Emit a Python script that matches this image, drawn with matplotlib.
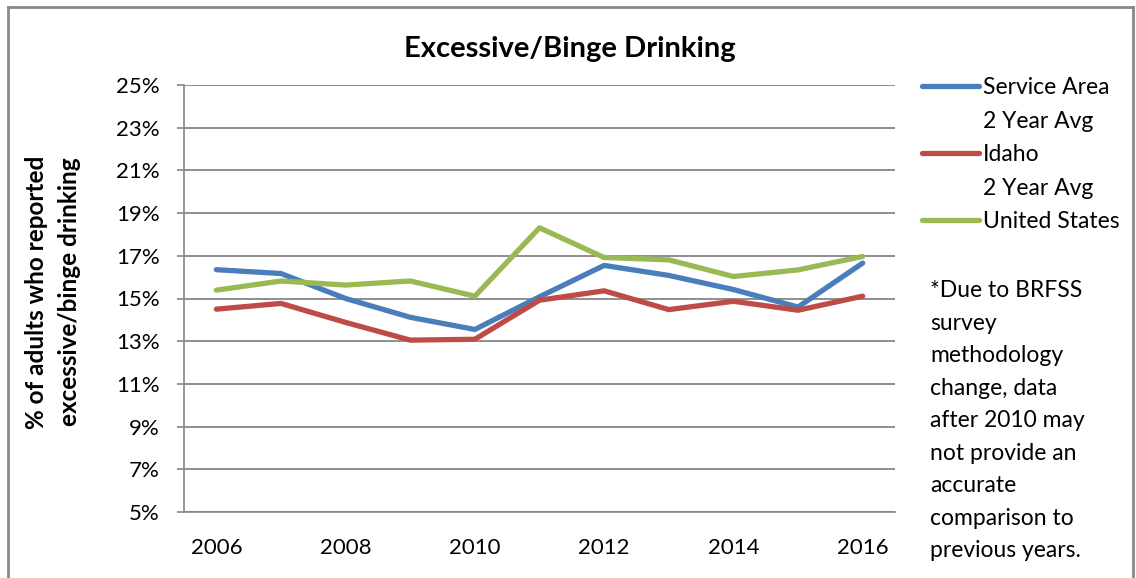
import matplotlib.pyplot as plt
from matplotlib.lines import Line2D
from matplotlib.ticker import FuncFormatter

# datos
years = [2006, 2007, 2008, 2009, 2010, 2011, 2012, 2013, 2014, 2015, 2016]
service_area = [16.35, 16.17, 15.0, 14.12, 13.55, 15.08, 16.55, 16.08, 15.42, 14.6, 16.66]
idaho = [14.5, 14.77, 13.88, 13.05, 13.09, 14.92, 15.36, 14.48, 14.87, 14.45, 15.11]
united_states = [15.39, 15.82, 15.63, 15.82, 15.11, 18.31, 16.92, 16.81, 16.03, 16.34, 16.97]

series_labels = ["Service Area", "Idaho", "United States"]
colors = ["#4A7EBB", "#BE4B48", "#98B954"]
note = ("*Due to BRFSS\nsurvey\nmethodology\nchange, data\nafter 2010 may\n"
        "not provide an\naccurate\ncomparison to\nprevious years.")

plt.rcParams["font.family"] = ["Lato", "DejaVu Sans"]

W, H = 1136, 578
fig = plt.figure(figsize=(W / 100, H / 100), dpi=100)
ax = fig.add_axes([184 / W, 1 - 512 / H, (895 - 184) / W, (512 - 85) / H])

grid_col = "#868686"
x = list(range(len(years)))
lines = []
for vals, c, lab in zip([service_area, idaho, united_states], colors, series_labels):
    ln, = ax.plot(x, vals, color=c, linewidth=3.8, label=lab, solid_capstyle="round", zorder=3)
    lines.append(ln)

ax.set_xlim(-0.5, len(years) - 0.5)
ax.set_ylim(5, 25)
ax.set_yticks(range(5, 26, 2))
ax.yaxis.set_major_formatter(FuncFormatter(lambda v, p: f"{int(v)}%"))
ax.set_xticks(x[::2])
ax.set_xticklabels([str(y) for y in years[::2]])
ax.grid(axis="y", color=grid_col, linewidth=1.3, zorder=1)
ax.tick_params(axis="y", length=5, width=1.2, color=grid_col, labelsize=16, pad=12.5)
ax.tick_params(axis="x", length=0, labelsize=16, pad=19)
for s in ["top", "right"]:
    ax.spines[s].set_visible(False)
for s in ["left", "bottom"]:
    ax.spines[s].set_color(grid_col)
    ax.spines[s].set_linewidth(1.2)

fig.text(53 / W, 1 - 292 / H, "% of adults who reported\nexcessive/binge drinking",
         fontsize=17.5, fontweight="bold", rotation=90, ha="center", va="center",
         multialignment="center", linespacing=1.5)
fig.text(570 / W, 1 - 49 / H, "Excessive/Binge Drinking", fontsize=21,
         fontweight="bold", ha="center", va="center")

blank = Line2D([], [], color="none")
handles = [lines[0], blank, lines[1], blank, lines[2]]
labels = ["Service Area", "2 Year Avg", "Idaho", "2 Year Avg", "United States"]
fig.legend(handles, labels, loc="upper left", bbox_to_anchor=(922 / W, 1 - 77 / H),
           frameon=False, fontsize=16.5, handlelength=2.5, handletextpad=0.15,
           labelspacing=0.55, borderpad=0, borderaxespad=0)

fig.text(930 / W, 1 - 280 / H, note, fontsize=16.5, ha="left", va="top", linespacing=1.68)

# marco exterior del grafico
border = dict(color="#898989", linewidth=2, transform=fig.transFigure)
fig.add_artist(Line2D([8 / W, 8 / W], [0, 1 - 7 / H], **border))
fig.add_artist(Line2D([8 / W, 1133 / W], [1 - 7 / H, 1 - 7 / H], **border))
fig.add_artist(Line2D([1133 / W, 1133 / W], [0, 1 - 7 / H], **border))

fig.savefig("out.png", dpi=100)
